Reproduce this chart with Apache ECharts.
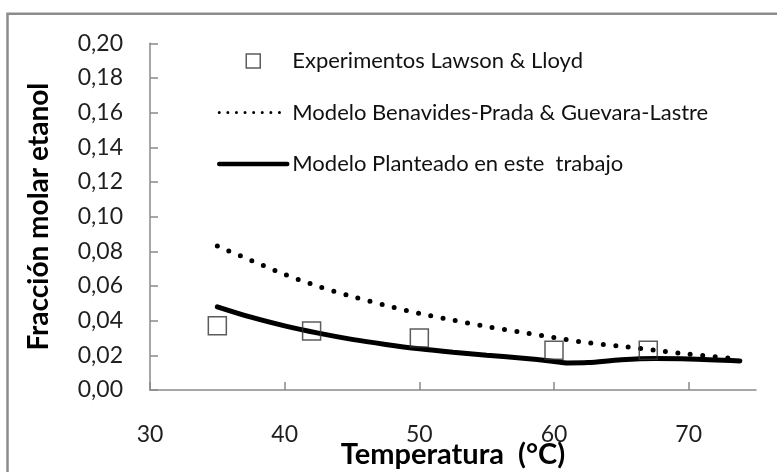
<!DOCTYPE html>
<html>
<head>
<meta charset="utf-8">
<script src="https://cdn.jsdelivr.net/npm/echarts@6/dist/echarts.min.js"></script>
<style>
  html, body { margin: 0; padding: 0; background: #ffffff; }
  #chart { width: 777px; height: 472px; }
</style>
</head>
<body>
<div id="chart"></div>
<script>
// Experimental points (Lawson & Lloyd)
const expTemps = [35, 42, 50, 60, 67];
const expFrac = [0.037, 0.034, 0.030, 0.023, 0.023];

// Benavides-Prada & Guevara-Lastre model
const benTemps = [35, 37.5, 40, 42.5, 45, 47.5, 50, 52.5, 55, 57.5, 60, 62.5, 65, 67.5, 70, 73.5];
const benFrac = [0.083, 0.0748, 0.0667, 0.0598, 0.054, 0.0488, 0.0442, 0.0403, 0.0366, 0.0334, 0.0302, 0.0273, 0.0252, 0.0229, 0.0207, 0.0181];

// Model proposed in this work
const modTemps = [35, 37.5, 40, 42.5, 45, 47.5, 50, 52.5, 55, 57.5, 60, 61, 62.5, 65, 67.5, 70, 73.8];
const modFrac = [0.048, 0.042, 0.037, 0.0328, 0.0292, 0.0263, 0.0238, 0.0218, 0.0201, 0.0185, 0.0165, 0.0156, 0.0158, 0.0174, 0.0181, 0.0179, 0.0168];

// Axis ticks
const xTicks = [30, 40, 50, 60, 70];
const yTicks = [0, 0.02, 0.04, 0.06, 0.08, 0.10, 0.12, 0.14, 0.16, 0.18, 0.20];

const names = [
  'Experimentos Lawson & Lloyd',
  'Modelo Benavides-Prada & Guevara-Lastre',
  'Modelo Planteado en este  trabajo'
];

const zip = (xs, ys) => xs.map((x, i) => [x, ys[i]]);

const FONT = 'Lato';
const AXIS_GRAY = '#8a8a8a';
const TEXT = '#1f1f1f';

const chart = echarts.init(document.getElementById('chart'), null, { renderer: 'canvas' });

chart.setOption({
  animation: false,
  backgroundColor: '#ffffff',
  textStyle: { fontFamily: FONT },
  graphic: [{
    type: 'rect',
    silent: true,
    z: -10,
    shape: { x: 7.5, y: 13.8, width: 900, height: 600 },
    style: { fill: null, stroke: '#8c8c8c', lineWidth: 2.5 }
  }],
  grid: {
    left: 150, top: 43.3, width: 606, height: 346.7,
    containLabel: false, outerBoundsMode: 'none'
  },
  legend: {
    orient: 'vertical',
    left: 212,
    top: 43,
    itemWidth: 68,
    itemHeight: 14,
    itemGap: 25.5,
    symbolKeepAspect: true,
    textStyle: { fontFamily: FONT, fontSize: 22, color: '#111', lineHeight: 26 },
    data: [
      { name: names[0], icon: 'path://M0,0L10,0L10,10L0,10Z',
        itemStyle: { color: 'rgba(0,0,0,0)', borderColor: '#333', borderWidth: 1.5 } },
      { name: names[1],
        itemStyle: { color: '#000', opacity: 0 },
        lineStyle: { color: '#000', width: 3, type: [0, 8.6], cap: 'round', opacity: 1 } },
      { name: names[2],
        itemStyle: { color: '#000', opacity: 0 },
        lineStyle: { color: '#000', width: 4.5, type: 'solid', opacity: 1 } }
    ]
  },
  xAxis: {
    type: 'value',
    min: 30, max: 75, interval: 10,
    name: 'Temperatura  (°C)',
    nameLocation: 'middle',
    nameGap: 50,
    nameMoveOverlap: false,
    nameTextStyle: { fontFamily: FONT, fontSize: 29, fontWeight: 'bold', color: '#000' },
    axisLine: { show: true, onZero: false, lineStyle: { color: AXIS_GRAY, width: 1.5 } },
    axisTick: { show: true, inside: true, length: 8, customValues: xTicks,
      lineStyle: { color: AXIS_GRAY, width: 1.5 } },
    axisLabel: { customValues: xTicks, margin: 33, fontFamily: FONT, fontSize: 23, color: TEXT },
    splitLine: { show: false }
  },
  yAxis: {
    type: 'value',
    min: 0, max: 0.2, interval: 0.02,
    name: 'Fracción molar etanol',
    nameLocation: 'middle',
    nameGap: 97,
    nameTextStyle: { fontFamily: FONT, fontSize: 28, fontWeight: 'bold', color: '#000' },
    axisLine: { show: true, lineStyle: { color: AXIS_GRAY, width: 1.5 } },
    axisTick: { show: true, inside: true, length: 8, customValues: yTicks,
      lineStyle: { color: AXIS_GRAY, width: 1.5 } },
    axisLabel: {
      customValues: yTicks,
      margin: 27, fontFamily: FONT, fontSize: 23, color: TEXT,
      formatter: v => v.toFixed(2).replace('.', ',')
    },
    splitLine: { show: false }
  },
  series: [
    {
      name: names[0],
      type: 'scatter',
      data: zip(expTemps, expFrac),
      symbol: 'rect',
      symbolSize: 18,
      itemStyle: { color: 'rgba(0,0,0,0)', borderColor: '#333', borderWidth: 1.5 },
      z: 3
    },
    {
      name: names[1],
      type: 'line',
      data: zip(benTemps, benFrac),
      smooth: 0.3,
      symbol: 'none',
      itemStyle: { color: '#000' },
      lineStyle: { color: '#000', width: 5, type: [0, 12.5], cap: 'round' },
      z: 2
    },
    {
      name: names[2],
      type: 'line',
      data: zip(modTemps, modFrac),
      smooth: 0.3,
      symbol: 'none',
      itemStyle: { color: '#000' },
      lineStyle: { color: '#000', width: 5, type: 'solid', cap: 'round' },
      z: 2
    }
  ]
});
</script>
</body>
</html>
